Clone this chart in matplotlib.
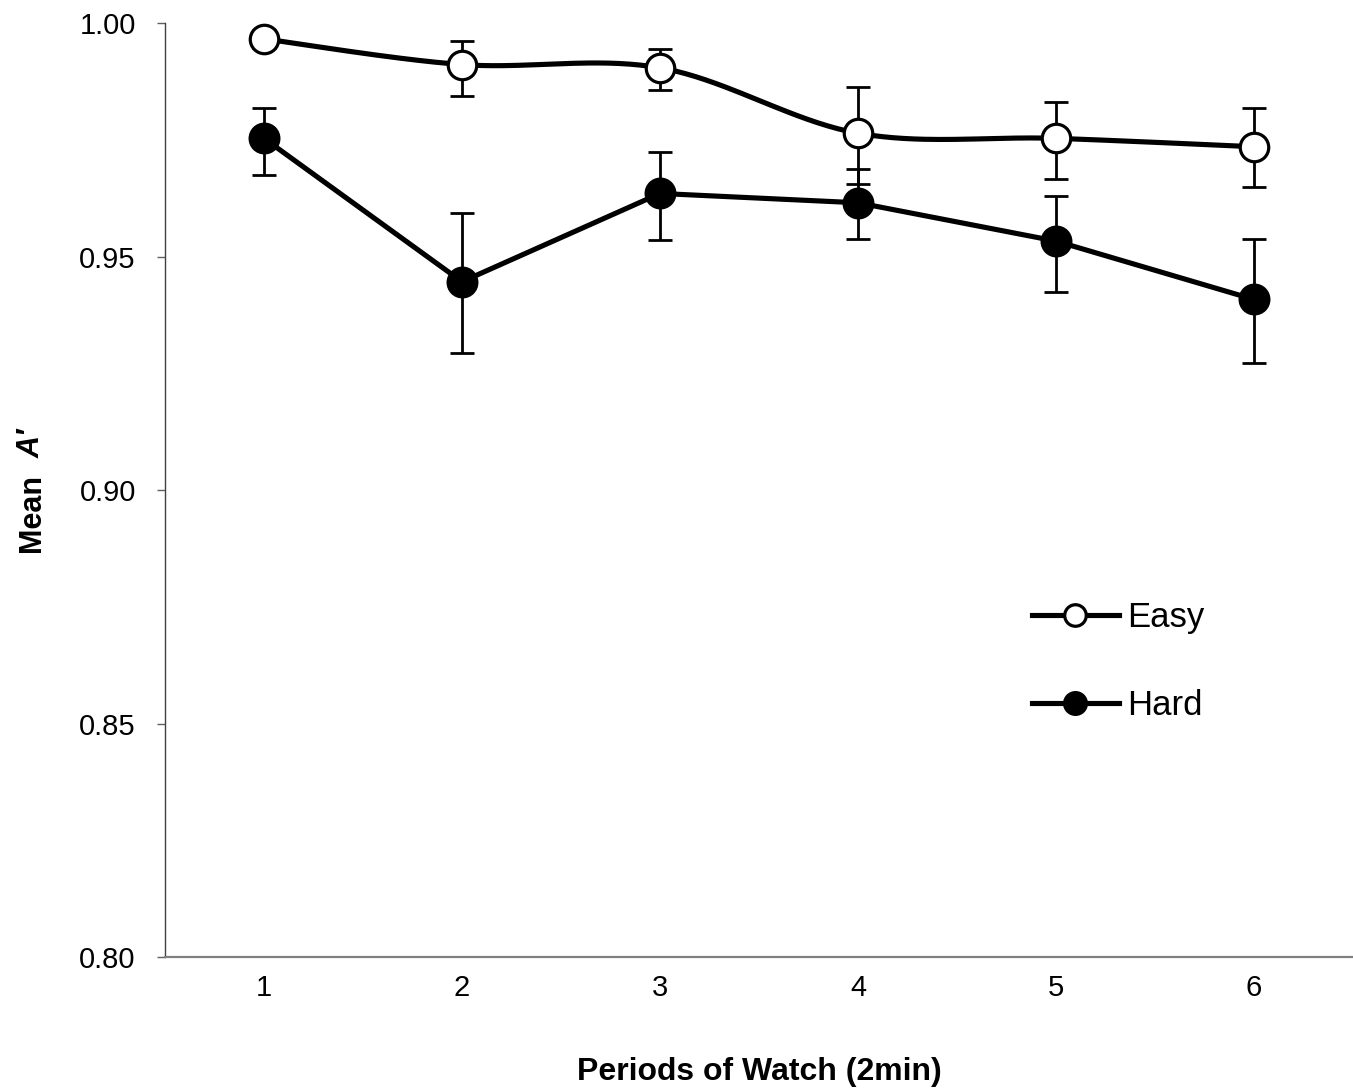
import numpy as np
import matplotlib
matplotlib.use("Agg")
import matplotlib.pyplot as plt
from matplotlib.lines import Line2D

plt.rcParams["font.family"] = ["Liberation Sans", "DejaVu Sans"]

# Watch periods (2-min blocks) and mean A' per condition
periods = [1, 2, 3, 4, 5, 6]
period_labels = ["1", "2", "3", "4", "5", "6"]

easy_mean = [0.9966, 0.9911, 0.9904, 0.9764, 0.9753, 0.9735]
easy_err_low = [0.0020, 0.0067, 0.0048, 0.0108, 0.0086, 0.0086]
easy_err_high = [0.0018, 0.0051, 0.0040, 0.0098, 0.0078, 0.0084]

hard_mean = [0.9753, 0.9446, 0.9635, 0.9615, 0.9533, 0.9408]
hard_err_low = [0.0079, 0.0153, 0.0099, 0.0078, 0.0109, 0.0135]
hard_err_high = [0.0064, 0.0148, 0.0089, 0.0072, 0.0097, 0.0129]

y_ticks = [0.80, 0.85, 0.90, 0.95, 1.00]


def smoothed(x, y, n=40):
    """Catmull-Rom style cubic Bezier through the points (spreadsheet 'smoothed line')."""
    pts = np.column_stack([x, y]).astype(float)
    out = []
    for i in range(len(pts) - 1):
        p0 = pts[i - 1] if i > 0 else pts[i]
        p1, p2 = pts[i], pts[i + 1]
        p3 = pts[i + 2] if i + 2 < len(pts) else pts[i + 1]
        c1 = p1 + (p2 - p0) / 6.0
        c2 = p2 - (p3 - p1) / 6.0
        t = np.linspace(0, 1, n)[:, None]
        seg = ((1 - t) ** 3) * p1 + 3 * ((1 - t) ** 2) * t * c1 \
            + 3 * (1 - t) * t ** 2 * c2 + t ** 3 * p2
        out.append(seg if i == 0 else seg[1:])
    seg = np.vstack(out)
    return seg[:, 0], seg[:, 1]


W, H, DPI = 1353, 1089, 100
fig = plt.figure(figsize=(W / DPI, H / DPI), dpi=DPI)
ax = fig.add_axes([165 / W, 1 - 957 / H, (W - 165) / W, (957 - 23) / H])

line_w = 3.7
err_kw = dict(fmt="none", ecolor="black", elinewidth=2.0, capsize=8.3,
              capthick=2.0, zorder=3)

# Easy condition: smoothed line, open circles
sx, sy = smoothed(periods, easy_mean)
ax.plot(sx, sy, color="black", lw=line_w, solid_capstyle="butt", zorder=2)
ax.errorbar(periods, easy_mean, yerr=[easy_err_low, easy_err_high], **err_kw)
ax.plot(periods, easy_mean, linestyle="none", marker="o", ms=20.5,
        mfc="white", mec="black", mew=2.3, zorder=4)

# Hard condition: straight line, filled circles
ax.plot(periods, hard_mean, color="black", lw=line_w, zorder=2)
ax.errorbar(periods, hard_mean, yerr=[hard_err_low, hard_err_high], **err_kw)
ax.plot(periods, hard_mean, linestyle="none", marker="o", ms=21.5,
        mfc="black", mec="black", mew=1.5, zorder=4)

ax.set_xlim(0.5, 6.5)
ax.set_ylim(0.80, 1.00)
ax.set_xticks(periods)
ax.set_xticklabels(period_labels)
ax.set_yticks(y_ticks)
ax.set_yticklabels([f"{v:.2f}" for v in y_ticks])

for s in ("top", "right"):
    ax.spines[s].set_visible(False)
ax.spines["left"].set_color("#404040")
ax.spines["left"].set_linewidth(1.0)
ax.spines["bottom"].set_color("#808080")
ax.spines["bottom"].set_linewidth(1.6)

ax.tick_params(axis="y", direction="out", length=6, width=1.0,
               color="#606060", labelsize=21, pad=15)
ax.tick_params(axis="x", length=0, labelsize=21, pad=12)

ax.set_xlabel("Periods of Watch (2min)", fontsize=23, fontweight="bold",
              labelpad=40)

# y-axis title: "Mean" in bold, "A'" in bold italic
fig.text(32 / W, 1 - 552 / H, "Mean", rotation=90, fontsize=22,
         fontweight="bold", ha="center", va="bottom")
fig.text(32 / W, 1 - 458 / H, "A\u2032", rotation=90, fontsize=22,
         fontweight="bold", fontstyle="italic", ha="center", va="bottom")

handles = [
    Line2D([], [], color="black", lw=line_w, marker="o", ms=15.5,
           mfc="white", mec="black", mew=2.3),
    Line2D([], [], color="black", lw=line_w, marker="o", ms=16.5,
           mfc="black", mec="black", mew=1.5),
]
ax.legend(handles, ["Easy", "Hard"], loc="center left",
          bbox_to_anchor=((1032 - 165) / (W - 165), (957 - 661.5) / (957 - 23)),
          frameon=False, fontsize=25, handlelength=2.5, handletextpad=0.25,
          labelspacing=1.6, borderpad=0, borderaxespad=0)

fig.savefig("out.png", dpi=DPI)
